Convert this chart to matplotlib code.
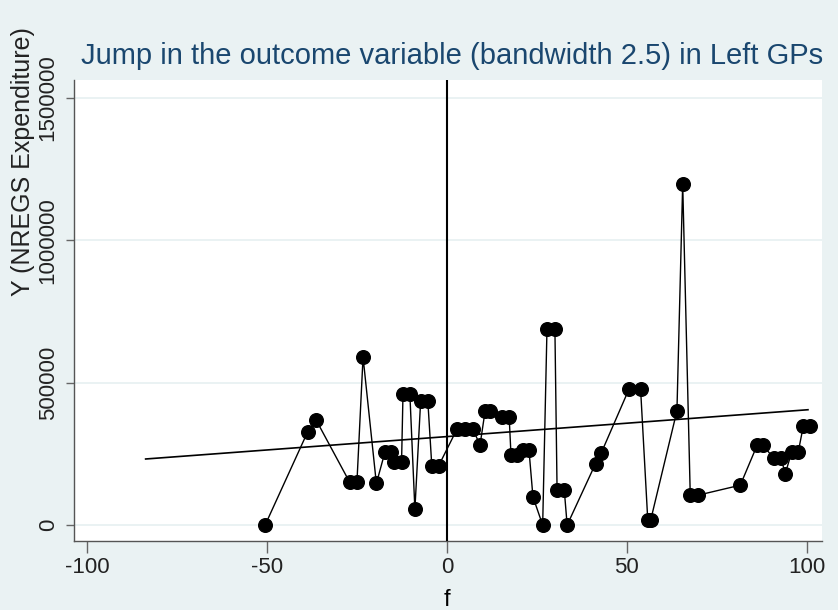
import numpy as np
import matplotlib
matplotlib.use("Agg")
import matplotlib.pyplot as plt

# outcome by running variable f, connected in order of f
f_vals = [-50.5, -38.7, -36.3, -27.0, -25.0, -23.3, -19.6, -17.2, -15.6, -14.6,
          -12.6, -12.2, -10.3, -8.9, -7.3, -5.3, -4.2, -2.3,
          2.8, 5.0, 7.2, 9.2, 10.6, 12.0, 15.2, 17.3, 17.8, 19.6, 21.2, 22.8,
          23.9, 26.6, 27.8, 30.0, 30.6, 32.6, 33.4, 41.3, 42.9, 50.6, 53.8,
          55.8, 56.6, 63.9, 65.5, 67.6, 69.8, 81.5, 86.2, 87.8, 90.8, 92.8,
          94.0, 95.8, 97.6, 99.0, 100.8]
y_vals = [0, 327000, 368000, 150000, 150000, 590000, 146000, 257000, 257000, 222000,
          222000, 462000, 462000, 55000, 435000, 435000, 208000, 208000,
          337000, 337000, 337000, 281000, 400000, 400000, 378000, 378000, 246000, 246000, 263000, 263000,
          99000, 0, 690000, 690000, 123000, 123000, 0, 216000, 254000, 478000, 478000,
          17000, 17000, 401000, 1198000, 105000, 105000, 140000, 281000, 281000, 234000, 234000,
          181000, 257000, 257000, 347000, 347000]

# linear fit endpoints
fit_f = [-83.7, 100.3]
fit_y = [232000, 405000]

x_ticks = [-100, -50, 0, 50, 100]
y_ticks = [0, 500000, 1000000, 1500000]

bg = "#eaf2f3"
title_blue = "#1a476f"

plt.rcParams["font.family"] = ["Liberation Sans", "DejaVu Sans"]

fig = plt.figure(figsize=(8.38, 6.10), dpi=100, facecolor=bg)
ax = fig.add_axes([74 / 838, 1 - 541 / 610, 748 / 838, 461 / 610])
ax.set_facecolor("white")

ax.set_xlim(-103.6, 104.2)
ax.set_ylim(-56000, 1563000)

ax.grid(axis="y", color=bg, lw=1.4, zorder=0)
ax.set_axisbelow(True)

ax.plot(fit_f, fit_y, color="black", lw=1.2, zorder=2)
ax.plot(f_vals, y_vals, color="black", lw=1.0, marker="o", ms=9.8,
        mfc="black", mec="black", zorder=3)
ax.axvline(0, color="black", lw=1.5, zorder=4)

for side in ("top", "right"):
    ax.spines[side].set_visible(False)
for side in ("left", "bottom"):
    ax.spines[side].set_color("#555555")
    ax.spines[side].set_linewidth(1.0)

ax.set_xticks(x_ticks)
ax.set_xticklabels([str(v) for v in x_ticks])
ax.set_yticks(y_ticks)
ax.set_yticklabels([str(v) for v in y_ticks], rotation=90, va="center")
ax.tick_params(axis="x", direction="out", length=8.5, width=1.0, color="#666666",
               labelsize=16, labelcolor="#222222", pad=3)
ax.tick_params(axis="y", direction="out", length=6, width=1.0, color="#666666",
               labelsize=16, labelcolor="#222222", pad=5)

fig.text(452 / 838, 1 - 56 / 610, "Jump in the outcome variable (bandwidth 2.5) in Left GPs",
         ha="center", va="center", fontsize=21, color=title_blue)
fig.text(23 / 838, 1 - 296 / 610, "Y (NREGS Expenditure)", rotation=90,
         ha="center", va="bottom", fontsize=18, color="#222222")
fig.text(447 / 838, 1 - 600 / 610, "f", ha="center", va="center",
         fontsize=17, color="black")

fig.savefig("out.png", dpi=100, facecolor=bg)
